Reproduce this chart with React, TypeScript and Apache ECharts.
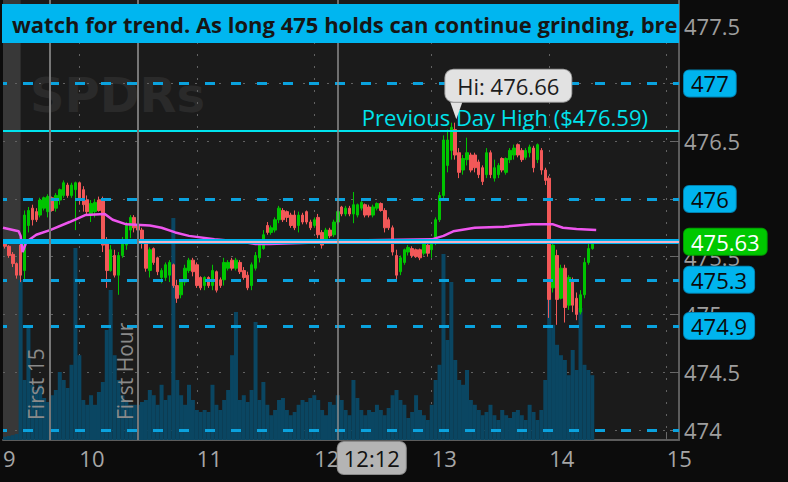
import React, { useEffect, useRef } from "react";
import * as echarts from "echarts";

const FONT = "'Open Sans', 'Noto Sans', sans-serif";

// time axis in minutes after midnight
const X_MIN = 561;
const X_MAX = 906.3;
const Y_MIN = 473.913;
const Y_MAX = 477.722;
const VOL_MAX = 1100;

const SESSION_START = 562; // first 2-minute bar, 09:22
const BAR_MINUTES = 2;

const priceTicks = [474, 474.5, 475, 475.5, 476, 476.5, 477, 477.5];
// 476 and 477 sit fully under their level badges, as in the reference
const priceLabelValues = [474, 474.5, 475, 475.5, 476.5, 477.5];
const hourTicks = [600, 660, 720, 780, 840, 900];
const timeLabelValues = [561, 600, 660, 720, 780, 840, 900];

// [open, close, low, high]
const candles: number[][] = [
  [475.63, 475.59, 475.57, 475.64], [475.59, 475.51, 475.49, 475.6], [475.52, 475.44, 475.41, 475.54], [475.44, 475.34, 475.31, 475.45],
  [475.6, 475.34, 475.28, 475.62], [475.38, 475.86, 475.3, 475.9], [475.77, 475.9, 475.71, 475.93], [475.92, 475.82, 475.77, 475.95],
  [475.89, 475.82, 475.8, 475.92], [475.86, 475.99, 475.84, 476.01], [475.92, 476.01, 475.9, 476.02], [475.89, 476.02, 475.84, 476.04],
  [476.01, 475.9, 475.89, 476.02], [475.92, 476.03, 475.89, 476.05], [475.99, 476.08, 475.95, 476.09], [476.03, 476.14, 476.01, 476.16],
  [476.12, 476.03, 476.01, 476.14], [476.03, 476.12, 476.01, 476.14], [476.08, 476.14, 475.73, 476.15], [476.14, 475.99, 475.95, 476.15],
  [476.08, 475.95, 475.89, 476.11], [475.99, 475.89, 475.86, 476.03], [475.86, 475.96, 475.8, 475.99], [475.89, 475.97, 475.84, 476.0],
  [475.99, 475.9, 475.89, 476.02], [475.99, 475.6, 475.54, 476.02], [475.64, 475.38, 475.23, 475.67], [475.38, 475.56, 475.37, 475.6],
  [475.51, 475.34, 475.32, 475.56], [475.34, 475.51, 475.17, 475.54], [475.51, 475.64, 475.49, 475.67], [475.6, 475.77, 475.56, 475.8],
  [475.73, 475.84, 475.66, 475.86], [475.84, 475.75, 475.71, 475.86], [475.77, 475.73, 475.69, 475.8], [475.73, 475.62, 475.57, 475.75],
  [475.62, 475.4, 475.37, 475.64], [475.38, 475.56, 475.32, 475.58], [475.57, 475.45, 475.43, 475.58], [475.49, 475.37, 475.34, 475.5],
  [475.32, 475.38, 475.27, 475.4], [475.32, 475.43, 475.29, 475.45], [475.34, 475.45, 475.28, 475.47], [475.43, 475.25, 475.23, 475.44],
  [475.25, 475.14, 475.1, 475.3], [475.17, 475.28, 475.14, 475.3], [475.28, 475.4, 475.25, 475.43], [475.38, 475.47, 475.36, 475.49],
  [475.47, 475.37, 475.33, 475.49], [475.43, 475.25, 475.23, 475.45], [475.32, 475.23, 475.21, 475.33], [475.25, 475.32, 475.21, 475.33],
  [475.32, 475.25, 475.23, 475.33], [475.25, 475.38, 475.21, 475.43], [475.37, 475.21, 475.19, 475.38], [475.3, 475.25, 475.23, 475.32],
  [475.3, 475.45, 475.25, 475.49], [475.4, 475.45, 475.38, 475.47], [475.47, 475.4, 475.38, 475.49], [475.4, 475.47, 475.38, 475.49],
  [475.45, 475.37, 475.35, 475.47], [475.38, 475.32, 475.3, 475.41], [475.34, 475.23, 475.21, 475.37], [475.25, 475.43, 475.21, 475.45],
  [475.4, 475.51, 475.38, 475.54], [475.49, 475.6, 475.45, 475.63], [475.57, 475.69, 475.56, 475.73], [475.77, 475.71, 475.69, 475.8],
  [475.71, 475.75, 475.69, 475.77], [475.73, 475.82, 475.71, 475.84], [475.82, 475.92, 475.79, 475.94], [475.9, 475.82, 475.8, 475.92],
  [475.89, 475.84, 475.8, 475.9], [475.86, 475.77, 475.75, 475.88], [475.86, 475.75, 475.73, 475.9], [475.77, 475.86, 475.71, 475.89],
  [475.86, 475.8, 475.78, 475.88], [475.89, 475.8, 475.78, 475.9], [475.8, 475.75, 475.73, 475.82], [475.77, 475.82, 475.75, 475.84],
  [475.84, 475.69, 475.66, 475.87], [475.71, 475.6, 475.57, 475.73], [475.64, 475.73, 475.63, 475.75], [475.73, 475.68, 475.66, 475.75],
  [475.69, 475.8, 475.67, 475.82], [475.8, 475.89, 475.78, 475.9], [475.93, 475.87, 475.85, 475.94], [475.87, 475.92, 475.85, 475.94],
  [475.92, 475.87, 475.85, 475.94], [475.87, 475.95, 475.79, 476.06], [475.86, 475.95, 475.84, 475.96], [475.92, 475.97, 475.9, 475.99],
  [475.95, 475.86, 475.84, 475.96], [475.93, 475.86, 475.84, 475.95], [475.86, 475.93, 475.84, 475.95], [475.92, 475.96, 475.9, 475.97],
  [475.96, 475.9, 475.89, 475.97], [475.9, 475.75, 475.71, 475.92], [475.82, 475.75, 475.73, 475.84], [475.75, 475.54, 475.51, 475.77],
  [475.51, 475.34, 475.3, 475.56], [475.37, 475.49, 475.34, 475.51], [475.45, 475.56, 475.43, 475.57], [475.54, 475.58, 475.51, 475.6],
  [475.57, 475.51, 475.49, 475.59], [475.56, 475.5, 475.49, 475.57], [475.56, 475.49, 475.47, 475.57], [475.53, 475.62, 475.51, 475.63],
  [475.6, 475.53, 475.5, 475.62], [475.56, 475.64, 475.49, 475.66], [475.64, 475.82, 475.6, 475.84], [475.82, 476.03, 475.8, 476.06],
  [476.03, 476.51, 475.99, 476.55], [476.29, 476.51, 476.23, 476.6], [476.42, 476.62, 476.34, 476.66], [476.6, 476.38, 476.34, 476.66],
  [476.4, 476.23, 476.18, 476.44], [476.25, 476.35, 476.21, 476.38], [476.34, 476.4, 476.29, 476.53], [476.38, 476.25, 476.23, 476.4],
  [476.38, 476.27, 476.23, 476.4], [476.32, 476.21, 476.18, 476.34], [476.27, 476.15, 476.12, 476.29], [476.21, 476.4, 476.18, 476.44],
  [476.4, 476.21, 476.18, 476.42], [476.18, 476.27, 476.15, 476.34], [476.21, 476.29, 476.18, 476.31], [476.35, 476.25, 476.23, 476.36],
  [476.23, 476.35, 476.21, 476.36], [476.34, 476.42, 476.31, 476.44], [476.38, 476.44, 476.34, 476.47], [476.47, 476.38, 476.36, 476.48],
  [476.42, 476.34, 476.32, 476.44], [476.36, 476.42, 476.34, 476.44], [476.4, 476.45, 476.36, 476.47], [476.44, 476.27, 476.23, 476.46],
  [476.34, 476.47, 476.31, 476.48], [476.42, 476.25, 476.21, 476.44], [476.25, 476.16, 476.12, 476.27], [476.18, 475.13, 474.97, 476.2],
  [475.23, 475.6, 475.19, 475.64], [475.51, 475.13, 474.91, 475.56], [475.14, 475.4, 475.13, 475.43], [475.4, 475.06, 474.93, 475.43],
  [475.08, 475.32, 475.04, 475.34], [475.3, 475.08, 475.02, 475.32], [475.14, 475.0, 474.95, 475.19], [475.02, 475.17, 475.0, 475.21],
  [475.17, 475.45, 475.14, 475.49], [475.45, 475.57, 475.43, 475.61], [475.57, 475.63, 475.56, 475.65],
];

// volume per 2-minute bar, thousands of shares
const volumes: number[] = [
  8, 10, 12, 15, 400, 150, 280, 138, 125, 138, 105, 95, 112, 125, 170, 150, 130, 188, 480, 212,
  100, 88, 112, 88, 120, 145, 275, 375, 212, 150, 112, 100, 88, 88, 88, 95, 100, 125, 112, 88,
  138, 100, 112, 555, 150, 112, 88, 138, 100, 75, 70, 75, 70, 138, 88, 75, 100, 125, 212, 320,
  100, 112, 95, 125, 295, 100, 145, 88, 62, 75, 100, 105, 75, 62, 70, 88, 100, 95, 105, 112,
  100, 75, 62, 95, 88, 112, 100, 75, 62, 150, 105, 75, 62, 75, 70, 88, 75, 62, 80, 112,
  125, 100, 88, 55, 70, 112, 75, 62, 50, 88, 150, 188, 465, 250, 395, 200, 150, 138, 175, 100,
  88, 75, 62, 70, 88, 62, 50, 75, 62, 55, 70, 75, 62, 50, 88, 70, 50, 75, 150, 400,
  288, 238, 212, 200, 162, 225, 175, 330, 188, 175, 162,
];

const vwapTimes = [561, 569, 570, 571, 573, 578, 585, 595, 603, 613, 617, 624, 636, 642, 649, 656, 669, 683, 690, 697, 717, 739, 780, 786, 791, 802, 817, 831, 842, 847, 854, 864];
const vwapValues = [475.75, 475.72, 475.68, 475.54, 475.63, 475.69, 475.73, 475.8, 475.86, 475.87, 475.82, 475.78, 475.77, 475.75, 475.71, 475.68, 475.65, 475.63, 475.61, 475.61, 475.62, 475.64, 475.65, 475.68, 475.72, 475.75, 475.76, 475.78, 475.78, 475.75, 475.74, 475.73];

const badgeLevels = [477, 476, 475.3, 474.9];
const plainLevels = [474];
const lastPrice = 475.63;
const prevDayHigh = 476.59;
const marketOpen = 570;
const first15 = 585;
const firstHour = 630;
const crosshairTime = 732;
const noteText = "watch for trend. As long 475 holds can continue grinding, bre";

const fmtTime = (t: number) => `${Math.floor(t / 60)}:${String(t % 60).padStart(2, "0")}`;

function buildOption() {
  const candleData = candles.map((c, i) => [SESSION_START + i * BAR_MINUTES, c[0], c[1], c[2], c[3]]);
  const volumeData = volumes.map((v, i) => [SESSION_START + i * BAR_MINUTES, v]);
  const vwapData = vwapTimes.map((t, i) => [t, vwapValues[i]]);
  let hiIdx = 0;
  candles.forEach((c, i) => {
    if (c[3] > candles[hiIdx][3]) hiIdx = i;
  });
  const hiTime = SESSION_START + hiIdx * BAR_MINUTES;
  const hiValue = candles[hiIdx][3];

  const blueDash = { color: "#0aa2de", width: 3, type: [10, 16] as number[], dashOffset: 6 };
  const gridDot = { color: "#626262", width: 1, type: [2, 10] as number[] };
  const badge = (text: string, bg: string, border: string, fg: string) => ({
    show: true,
    position: "end",
    distance: 5,
    formatter: text,
    backgroundColor: bg,
    borderColor: border,
    borderWidth: 1,
    borderRadius: 5,
    padding: [1, 7],
    color: fg,
    fontSize: 22,
    lineHeight: 24,
    fontFamily: FONT,
  });
  const hidden = { show: false };
  const vLabel = (text: string) => ({
    show: true,
    position: "insideStartTop",
    distance: [20, 3],
    formatter: text,
    color: "#8a8a8a",
    fontSize: 21,
    fontFamily: FONT,
  });

  return {
    animation: false,
    backgroundColor: "#0c0c0c",
    textStyle: { fontFamily: FONT },
    grid: { left: 0, right: 109, top: 0, bottom: 42, show: true, backgroundColor: "#1b1b1b", borderWidth: 0 },
    xAxis: {
      type: "value",
      min: X_MIN,
      max: X_MAX,
      axisLine: { show: true, lineStyle: { color: "#5c5c5c", width: 2 } },
      axisTick: { show: true, inside: true, length: 8, customValues: hourTicks, lineStyle: { color: "#6a6a6a" } },
      axisLabel: {
        customValues: timeLabelValues,
        formatter: (v: number) => String(Math.floor(v / 60)),
        align: "left",
        margin: 7,
        color: "#a6a6a6",
        fontSize: 22,
        fontFamily: FONT,
      },
      splitLine: { show: false },
    },
    yAxis: [
      {
        type: "value",
        position: "right",
        min: Y_MIN,
        max: Y_MAX,
        axisLine: { show: true, lineStyle: { color: "#5c5c5c", width: 2 } },
        axisTick: { show: true, inside: true, length: 9, customValues: priceTicks, lineStyle: { color: "#6a6a6a" } },
        axisLabel: {
          customValues: priceLabelValues,
          formatter: (v: number) => String(v),
          margin: 5,
          color: "#9e9e9e",
          fontSize: 22,
          fontFamily: FONT,
        },
        splitLine: { show: false },
      },
      { type: "value", min: 0, max: VOL_MAX, show: false },
    ],
    graphic: [
      {
        type: "text",
        x: 30,
        y: 95,
        z: 1,
        silent: true,
        style: { text: "SPDRs", fontSize: 48, fontWeight: "bold", fontFamily: "DejaVu Sans", fill: "#2a2a2a", verticalAlign: "middle", textVerticalAlign: "middle" },
      },
      { type: "rect", z: 20, silent: true, shape: { x: 2, y: 4, width: 677, height: 39 }, style: { fill: "#00b6f0" } },
      {
        type: "text",
        x: 12,
        y: 24,
        z: 21,
        silent: true,
        style: { text: noteText, fontSize: 22, fontWeight: "bold", fontFamily: FONT, fill: "#161616", verticalAlign: "middle", textVerticalAlign: "middle" },
      },
    ],
    series: [
      {
        name: "backdrop",
        type: "line",
        data: [],
        clip: false,
        silent: true,
        markArea: {
          silent: true,
          z: 1,
          itemStyle: { color: "#383838" },
          data: [[{ xAxis: X_MIN }, { xAxis: marketOpen }]],
        },
        markLine: {
          silent: true,
          z: 1,
          symbol: ["none", "none"],
          label: { show: false },
          lineStyle: gridDot,
          data: [...priceTicks.map((p) => ({ yAxis: p })), ...hourTicks.map((h) => ({ xAxis: h }))],
        },
      },
      {
        name: "Volume",
        type: "bar",
        yAxisIndex: 1,
        data: volumeData,
        barWidth: 4,
        z: 2,
        silent: true,
        itemStyle: { color: "#0a4662" },
      },
      {
        name: "SPY",
        type: "candlestick",
        data: candleData,
        barWidth: 3,
        z: 3,
        silent: true,
        itemStyle: { color: "#00c400", color0: "#f25858", borderColor: "#00c400", borderColor0: "#f25858", borderWidth: 1 },
      },
      {
        name: "VWAP",
        type: "line",
        data: vwapData,
        z: 4,
        silent: true,
        symbol: "none",
        lineStyle: { color: "#ee55ee", width: 2.5 },
      },
      {
        name: "levels",
        type: "line",
        data: [],
        clip: false,
        silent: true,
        markLine: {
          silent: true,
          z: 5,
          symbol: ["none", "none"],
          emphasis: { disabled: true },
          data: [
            {
              yAxis: prevDayHigh,
              lineStyle: { color: "#00e4ee", width: 2, type: "solid" },
              label: {
                show: true,
                position: "insideEndTop",
                distance: [31, 3],
                formatter: `Previous Day High ($${prevDayHigh.toFixed(2)})`,
                color: "#00e2ec",
                fontSize: 22,
                fontFamily: FONT,
              },
            },
            ...badgeLevels.map((lv) => ({ yAxis: lv, lineStyle: blueDash, label: badge(String(lv), "#00b4ee", "#0082b0", "#0a0a0a") })),
            ...plainLevels.map((lv) => ({ yAxis: lv, lineStyle: blueDash, label: hidden })),
            { yAxis: lastPrice, lineStyle: { color: "#00b2ee", width: 5, type: "solid" }, label: badge(lastPrice.toFixed(2), "#00c800", "#009a00", "#ffffff") },
            [
              { coord: [firstHour, lastPrice], lineStyle: { color: "#f2b2c6", width: 2, type: "solid" }, label: hidden },
              { coord: [X_MAX, lastPrice] },
            ],
            { xAxis: first15, lineStyle: { color: "#777777", width: 2, type: "solid" }, label: vLabel("First 15") },
            { xAxis: firstHour, lineStyle: { color: "#777777", width: 2, type: "solid" }, label: vLabel("First Hour") },
            { xAxis: crosshairTime, lineStyle: { color: "#8c8c8c", width: 1.5, type: "solid" }, label: hidden },
          ],
        },
        markPoint: {
          silent: true,
          z: 6,
          data: [
            {
              coord: [hiTime, hiValue],
              symbol: "triangle",
              symbolRotate: 180,
              symbolSize: [12, 17],
              symbolOffset: [5, -12],
              itemStyle: { color: "#e2e2e2" },
              label: hidden,
            },
            {
              coord: [hiTime, hiValue],
              symbol: "rect",
              symbolSize: 1,
              itemStyle: { color: "rgba(0,0,0,0)" },
              label: {
                show: true,
                position: "inside",
                offset: [57, -37],
                formatter: `Hi: ${hiValue.toFixed(2)}`,
                backgroundColor: "#e2e2e2",
                borderColor: "#9a9a9a",
                borderWidth: 1,
                borderRadius: 8,
                padding: [4, 12],
                color: "#1c1c1c",
                fontSize: 22,
                lineHeight: 24,
                fontFamily: FONT,
              },
            },
            {
              coord: [crosshairTime, Y_MIN],
              symbol: "rect",
              symbolSize: 1,
              itemStyle: { color: "rgba(0,0,0,0)" },
              label: {
                show: true,
                position: "inside",
                offset: [34, 18],
                formatter: fmtTime(crosshairTime),
                backgroundColor: "#b4b4b4",
                borderColor: "#8a8a8a",
                borderWidth: 1,
                borderRadius: 6,
                padding: [4, 6],
                color: "#111111",
                fontSize: 22,
                lineHeight: 24,
                fontFamily: FONT,
              },
            },
          ],
        },
      },
    ],
  };
}

export default function App() {
  const ref = useRef<HTMLDivElement>(null);
  useEffect(() => {
    document.body.style.margin = "0";
    const chart = echarts.init(ref.current!, null, { renderer: "svg" });
    chart.setOption(buildOption() as any);
    return () => chart.dispose();
  }, []);
  return (
    <div
      ref={ref}
      style={{ width: 788, height: 482, position: "absolute", left: 0, top: 0, background: "#0c0c0c" }}
    />
  );
}
